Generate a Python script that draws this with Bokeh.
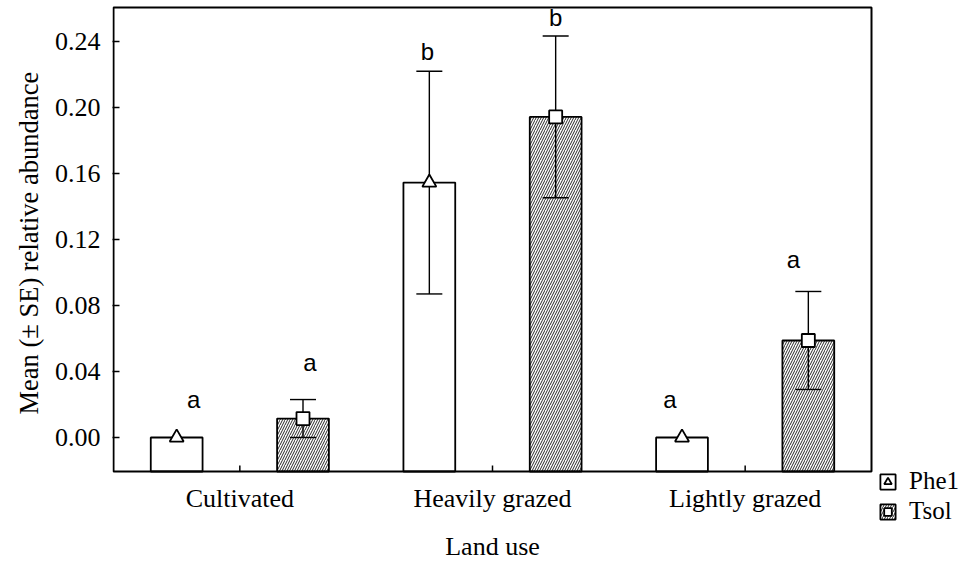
from bokeh.plotting import figure
from bokeh.models import (ColumnDataSource, Range1d, FixedTicker, Legend,
                          LegendItem, NumeralTickFormatter, Title)
from bokeh.transform import dodge
from bokeh.core.properties import value
from bokeh.embed import file_html
from bokeh.resources import INLINE

# ---- data -------------------------------------------------------------
land_use = ["Cultivated", "Heavily grazed", "Lightly grazed"]

phe1_mean = [0.0, 0.1545, 0.0]
phe1_se = [0.0, 0.0675, 0.0]
phe1_letters = ["a", "b", "a"]

tsol_mean = [0.0115, 0.1943, 0.0588]
tsol_se = [0.0115, 0.0490, 0.0297]
tsol_letters = ["a", "b", "a"]

y_ticks = [0.00, 0.04, 0.08, 0.12, 0.16, 0.20, 0.24]

# ---- page geometry (pixels) ----------------------------------------------
W, H = 963, 561
FRAME_L, FRAME_T = 112, 5            # drawing area reaches the right/bottom edges
BOX_L, BOX_R, BOX_T, BOX_B = 113, 871, 7, 471
PX_ZERO, PX_024 = 437, 41
PX_PER_Y = (PX_ZERO - PX_024) / 0.24
PX_PER_CAT = (BOX_R - BOX_L) / len(land_use)

Y_MIN = -(BOX_B - PX_ZERO) / PX_PER_Y
Y_MAX = 0.24 + (PX_024 - BOX_T) / PX_PER_Y
X_MAX = float(len(land_use))
OFFSET = 0.25
BAR_W = 0.205
SERIF = "Liberation Serif"
SANS = "Liberation Sans"

p = figure(width=W, height=H, output_backend="svg", toolbar_location=None,
           x_range=Range1d(-(BOX_L - FRAME_L) / PX_PER_CAT, (W - BOX_L) / PX_PER_CAT),
           y_range=Range1d(Y_MIN - (H - BOX_B) / PX_PER_Y,
                           Y_MAX + (BOX_T - FRAME_T) / PX_PER_Y),
           x_axis_location=None, min_border_left=FRAME_L, min_border_top=FRAME_T,
           min_border_right=0, min_border_bottom=0)
p.xgrid.visible = False
p.ygrid.visible = False
p.outline_line_color = None
p.background_fill_color = "white"

cat_x = [i + 0.5 for i in range(len(land_use))]


def series_source(means, ses, letters):
    return ColumnDataSource(dict(
        x=cat_x, mean=means,
        lower=[m - s for m, s in zip(means, ses)],
        upper=[m + s for m, s in zip(means, ses)],
        letter=letters))


def err_source(means, ses):
    keep = [i for i, s in enumerate(ses) if s > 0]
    return ColumnDataSource(dict(
        x=[cat_x[i] for i in keep],
        lower=[means[i] - ses[i] for i in keep],
        upper=[means[i] + ses[i] for i in keep]))


src_phe = series_source(phe1_mean, phe1_se, phe1_letters)
src_tsol = series_source(tsol_mean, tsol_se, tsol_letters)
err_phe = err_source(phe1_mean, phe1_se)
err_tsol = err_source(tsol_mean, tsol_se)

x_phe = dodge("x", -OFFSET)
x_tsol = dodge("x", OFFSET)

# bars start at the bottom of the plotting box
bar_phe = p.vbar(x=x_phe, top="mean", bottom=Y_MIN, width=BAR_W, source=src_phe,
                 fill_color="white", line_color="black", line_width=1.8)
bar_tsol = p.vbar(x=x_tsol, top="mean", bottom=Y_MIN, width=BAR_W, source=src_tsol,
                  fill_color="white", line_color="black", line_width=1.8,
                  hatch_pattern="/", hatch_scale=5, hatch_weight=1,
                  hatch_color="#2a2a2a")

# error bars
for src, xx in ((err_phe, x_phe), (err_tsol, x_tsol)):
    p.segment(x0=xx, y0="lower", x1=xx, y1="upper", source=src,
              line_color="black", line_width=1.4)
    p.scatter(x=xx, y="lower", marker="dash", size=26, source=src,
              line_color="black", line_width=1.4)
    p.scatter(x=xx, y="upper", marker="dash", size=26, source=src,
              line_color="black", line_width=1.4)

# mean markers
pt_phe = p.scatter(x=x_phe, y="mean", marker="triangle", size=14, source=src_phe,
                   fill_color="white", line_color="black", line_width=1.8)
pt_tsol = p.scatter(x=x_tsol, y="mean", marker="square", size=13, source=src_tsol,
                    fill_color="white", line_color="black", line_width=1.8)

# significance letters above the error bars
for src, xx, xoff, yoff in ((src_phe, x_phe, [17, -2, -12], [-25, -6, -25]),
                             (src_tsol, x_tsol, [7, 0, -15], [-24, -5, -18])):
    src.data["xoff"] = xoff
    src.data["yoff"] = yoff
    p.text(x=xx, y="upper", text="letter", source=src, x_offset="xoff",
           y_offset="yoff", text_align="center", text_baseline="bottom",
           text_font=value(SANS), text_font_size="24px", text_color="black")

# plotting box with inward category ticks along its bottom edge
p.quad(left=0, right=X_MAX, bottom=Y_MIN, top=Y_MAX, fill_color=None,
       line_color="black", line_width=2)
p.segment(x0=cat_x, y0=[Y_MIN] * len(cat_x), x1=cat_x,
          y1=[Y_MIN + 6 / PX_PER_Y] * len(cat_x), line_color="black", line_width=1.5)

# category labels and x-axis title
p.text(x=cat_x, y=[Y_MIN] * len(cat_x), text=land_use, y_offset=12,
       text_align="center", text_baseline="top", text_font=value(SERIF),
       text_font_size="26px", text_color="black")
p.text(x=[X_MAX / 2], y=[Y_MIN], text=["Land use"], y_offset=75,
       text_align="center", text_baseline="middle", text_font=value(SERIF),
       text_font_size="26px", text_color="black")

# y axis
yax = p.yaxis[0]
yax.ticker = FixedTicker(ticks=y_ticks)
yax.formatter = NumeralTickFormatter(format="0.00")
yax.major_tick_in = 7
yax.major_tick_out = 0
yax.minor_tick_line_color = None
yax.axis_line_color = None
yax.major_tick_line_width = 1.5
yax.major_label_standoff = 12
yax.major_label_text_font = SERIF
yax.major_label_text_font_size = "26px"
yax.major_label_text_color = "black"

ylabel = "Mean (\u00b1 SE) relative abundance"
p.add_layout(Title(text=ylabel, align="left", offset=H - 414, standoff=15,
                   text_font=SERIF, text_font_size="26.5px",
                   text_font_style="normal", text_color="black"), "left")

legend = Legend(items=[LegendItem(label="Phe1", renderers=[bar_phe, pt_phe]),
                       LegendItem(label="Tsol", renderers=[bar_tsol, pt_tsol])],
                location=(878 - FRAME_L, H - 526), orientation="vertical",
                glyph_width=19, glyph_height=19, label_height=30,
                label_standoff=12, spacing=0, padding=0, margin=0,
                label_text_font=SERIF, label_text_font_size="25px",
                label_text_color="black",
                background_fill_alpha=0, border_line_alpha=0)
p.add_layout(legend)

open("out.html", "w").write(file_html(p, INLINE))
